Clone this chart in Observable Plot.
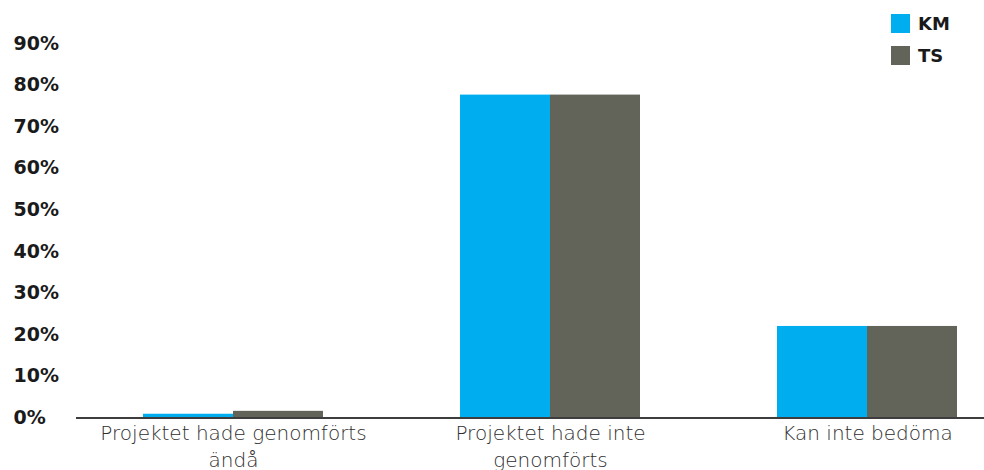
<!DOCTYPE html>
<html><head><meta charset="utf-8">
<script src="https://cdn.jsdelivr.net/npm/d3@7"></script>
<script src="https://cdn.jsdelivr.net/npm/@observablehq/plot@0.6"></script>
<style>
body{margin:0;background:#fff;}
#wrap{position:relative;width:984px;height:470px;overflow:hidden;}
#wrap svg{position:absolute;left:0;top:0;}
#legend{position:absolute;left:891px;top:14px;font:bold 18px "DejaVu Sans",sans-serif;color:#1a1a1a;z-index:2;}
#legend .row{display:flex;align-items:center;height:19px;margin-bottom:13px;}
#legend .sw{width:19px;height:19px;margin-right:8px;display:inline-block;}
</style></head>
<body><div id="wrap"><div id="legend"></div></div>
<script>
const categories = ["Projektet hade genomförts ändå", "Projektet hade inte genomförts", "Kan inte bedöma"];
const categoryLabels = ["Projektet hade genomförts\nändå", "Projektet hade inte\ngenomförts", "Kan inte bedöma"];
const seriesNames = ["KM", "TS"];
const seriesColors = ["#00adef", "#62645a"];
const kmValues = [0.9, 77.6, 22.0];
const tsValues = [1.6, 77.6, 22.0];
const yTicks = [0, 10, 20, 30, 40, 50, 60, 70, 80, 90];
const yTickLabels = ["0%", "10%", "20%", "30%", "40%", "50%", "60%", "70%", "80%", "90%"];

const data = categories.flatMap((c, i) => [
  {category: c, series: seriesNames[0], value: kmValues[i]},
  {category: c, series: seriesNames[1], value: tsValues[i]}
]);

const common = {
  width: 984, height: 470,
  marginLeft: 76, marginRight: 0, marginTop: 43, marginBottom: 52.5,
  style: {background: "transparent", overflow: "visible"},
  y: {domain: [0, 90], axis: null}
};

// bars (grouped through fx facets) and category labels
const bars = Plot.plot({
  ...common,
  fx: {domain: categories, paddingInner: 0.433, paddingOuter: 0.146, align: 0.71, label: null},
  x: {domain: seriesNames, padding: 0, axis: null},
  color: {domain: seriesNames, range: seriesColors},
  marks: [
    Plot.barY(data, {fx: "category", x: "series", y: "value", fill: "series"}),
    Plot.axisFx({
      anchor: "bottom", tickSize: 0, tickPadding: 3, label: null,
      tickFormat: c => categoryLabels[categories.indexOf(c)],
      lineHeight: 1.35, fontSize: 20, fontFamily: "DejaVu Sans", fontWeight: 300, fill: "#2e2e2e"
    })
  ]
});

// shared y scale: baseline and percentage labels across the whole frame
const axes = Plot.plot({
  ...common,
  marks: [
    Plot.ruleY([0], {stroke: "#3d3d3d", strokeWidth: 2}),
    Plot.text(yTicks, {
      y: d => d, text: (d, i) => yTickLabels[i],
      frameAnchor: "left", textAnchor: "start", dx: -63,
      fontFamily: "DejaVu Sans", fontWeight: "bold", fontSize: 19, fill: "#1a1a1a",
      style: "letter-spacing:1px"
    })
  ]
});

const wrap = document.getElementById("wrap");
wrap.appendChild(bars);
wrap.appendChild(axes);

const legend = document.getElementById("legend");
seriesNames.forEach((s, i) => {
  const row = document.createElement("div");
  row.className = "row";
  const sw = document.createElement("span");
  sw.className = "sw";
  sw.style.background = seriesColors[i];
  row.appendChild(sw);
  row.appendChild(document.createTextNode(s));
  legend.appendChild(row);
});
</script>
</body></html>
